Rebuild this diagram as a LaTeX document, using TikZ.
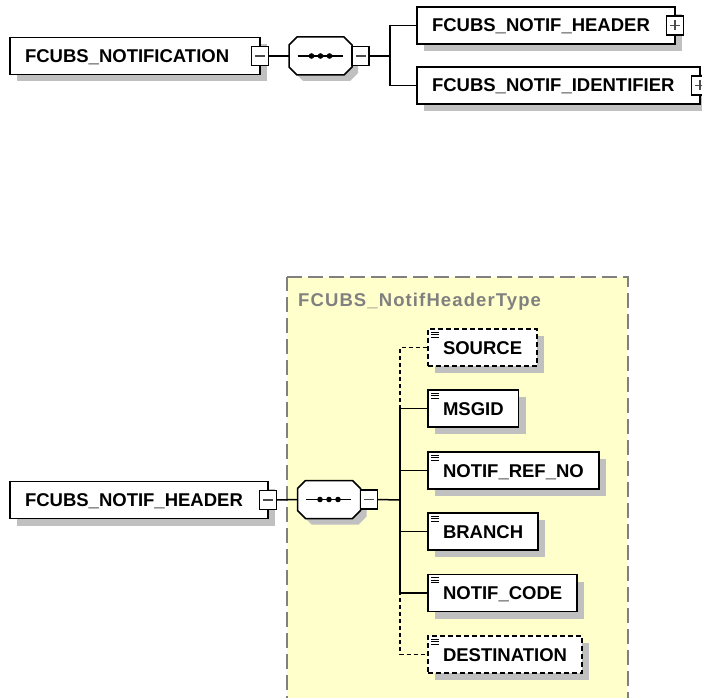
\documentclass[tikz,border=0pt]{standalone}
\usepackage{fontspec}
\usepackage{tikz}
\usetikzlibrary{shadows}

\newfontfamily\xsdfont{Liberation Sans}
\newfontfamily\xsdtitlefont{Liberation Sans}[LetterSpace=6]

\definecolor{typebg}{RGB}{255,255,204}
\definecolor{typeline}{RGB}{128,128,128}
\definecolor{shadowgrey}{RGB}{192,192,192}

% outline of a sequence compositor (chamfered box round a node)
\newcommand{\seqoutline}[1]{([xshift=8pt]#1.north west) -- ([xshift=-8pt]#1.north east) -- ([yshift=8pt]#1.north east) -- ([yshift=-8pt]#1.south east) -- ([xshift=-8pt]#1.south east) -- ([xshift=8pt]#1.south west) -- ([yshift=-8pt]#1.south west) -- ([yshift=8pt]#1.north west) -- cycle}

\begin{document}
\begin{tikzpicture}[x=1pt,y=1pt,yscale=-1,
	conn/.style={line width=1.5pt},
	elem/.style={draw, fill=white, line width=1.5pt, anchor=west, outer sep=0pt,
		minimum height=37pt, inner xsep=15pt, inner ysep=0pt, text height=13pt, text depth=0pt,
		font=\xsdfont\bfseries\fontsize{18.5}{20}\selectfont,
		drop shadow={shadow xshift=7pt, shadow yshift=-7pt, fill=shadowgrey, opacity=1}},
	leaf/.style={elem, path picture={
		\foreach \k in {0,1,2}
			\draw[solid, line width=0.8pt] ([xshift=3pt, yshift=-3pt-2.5pt*\k]path picture bounding box.north west) -- +(8pt,0pt);}},
	optional/.style={dash pattern=on 5pt off 3pt},
	toggle/.style={draw, solid, fill=white, line width=1.3pt, minimum width=17pt, minimum height=19pt, inner sep=0pt, outer sep=0pt},
	collapse/.style={toggle, path picture={
		\draw[line width=1.2pt, black!70] ([xshift=-5pt]path picture bounding box.center) -- ([xshift=5pt]path picture bounding box.center);}},
	expand/.style={toggle, path picture={
		\draw[line width=1.2pt, black!70] ([xshift=-5pt]path picture bounding box.center) -- ([xshift=5pt]path picture bounding box.center);
		\draw[line width=1.2pt, black!70] ([yshift=-5pt]path picture bounding box.center) -- ([yshift=5pt]path picture bounding box.center);}},
	seqbox/.style={minimum width=63pt, minimum height=38pt, inner sep=0pt, outer sep=0pt},
	typebox/.style={fill=typebg, draw=typeline, line width=1.5pt, dash pattern=on 15pt off 6pt},
	typetitle/.style={anchor=west, inner sep=0pt, text=typeline, font=\xsdtitlefont\bfseries\fontsize{18.5}{20}\selectfont}
	]
	\useasboundingbox (0,0) rectangle (702,698);

	%Shape: Rectangle [complex type]
	\draw[typebox] (287,277) -- (628,277) -- (628,720) -- (287,720) -- cycle;
	% Text Node
	\node[typetitle] (typename) at (298,302) {FCUBS\_NotifHeaderType};

	%Shape: sequence compositors
	\node[seqbox] (seqa) at (320.5,56) {};
	\node[seqbox] (seqb) at (329,499.5) {};
	\foreach \s in {seqa,seqb}{
		\draw[line width=1.5pt, fill=white, drop shadow={shadow xshift=6pt, shadow yshift=-6pt, fill=shadowgrey, opacity=1}] \seqoutline{\s};
		\draw[line width=1.3pt] ([xshift=-23pt]\s.center) -- ([xshift=22pt]\s.center);
		\foreach \d in {-9,0,9}
			\fill ([xshift=\d pt]\s.center) circle (2.8);
	}

	% top diagram
	\node[elem, text width=220pt, align=left] (notif) at (10,56) {FCUBS\_NOTIFICATION};
	\node[collapse] (notiftog) at (notif.east) {};
	\node[collapse, anchor=west] (seqatog) at (seqa.east) {};
	\coordinate (ja) at (390,56);
	\node[elem, text width=228pt, align=left] (hdr) at (417,25.5) {FCUBS\_NOTIF\_HEADER};
	\node[expand] (hdrtog) at (hdr.east) {};
	\node[elem, text width=253pt, align=left] (ident) at (417,85.5) {FCUBS\_NOTIF\_IDENTIFIER};
	\node[expand] (identtog) at (ident.east) {};

	% bottom diagram
	\node[elem, text width=228pt, align=left] (nhdr) at (10,500) {FCUBS\_NOTIF\_HEADER};
	\node[collapse] (nhdrtog) at (nhdr.east) {};
	\node[collapse, anchor=west] (seqbtog) at (seqb.east) {};
	\coordinate (jb) at (400,500);
	\node[leaf, optional] (source) at (428,347.5) {SOURCE};
	\node[leaf] (msgid) at (428,408.5) {MSGID};
	\node[leaf] (refno) at (428,470.5) {NOTIF\_REF\_NO};
	\node[leaf] (branch) at (428,531.5) {BRANCH};
	\node[leaf] (code) at (428,593) {NOTIF\_CODE};
	\node[leaf, optional] (dest) at (428,654.5) {DESTINATION};

	%Straight Lines
	\draw[conn] (notiftog.east) -- (seqa.west);
	\draw[conn] (seqatog.east) -- (ja);
	\draw[conn] (ja) |- (hdr.west);
	\draw[conn] (ja) |- (ident.west);
	\draw[conn] (nhdrtog.east) -- (seqb.west);
	\draw[conn] (seqbtog.east) -- (jb);
	\foreach \c in {msgid,refno,branch,code}
		\draw[conn] (jb) |- (\c.west);
	\foreach \c in {source,dest}
		\draw[conn, dash pattern=on 4pt off 3pt] (jb) |- (\c.west);

\end{tikzpicture}
\end{document}
